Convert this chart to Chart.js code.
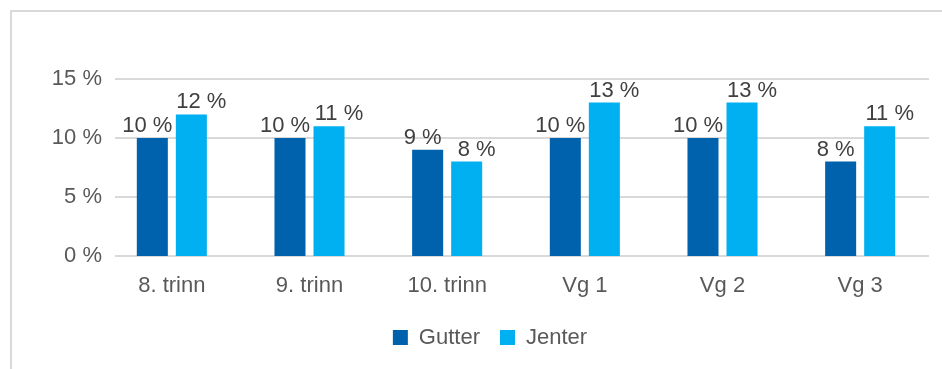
<!DOCTYPE html>
<html><head><meta charset="utf-8">
<script src="https://cdn.jsdelivr.net/npm/chart.js@4"></script>
<style>
html,body{margin:0;padding:0;background:#fff;overflow:hidden;width:942px;height:369px;}
#frame{position:absolute;left:10px;top:10px;width:1000px;height:400px;border-left:2px solid #d9d9d9;border-top:2px solid #d9d9d9;}
#wrap{position:absolute;left:0;top:0;width:942px;height:369px;}
</style></head><body>
<div id="frame"></div>
<div id="wrap"><canvas id="c"></canvas></div>
<script>
const categories = ['8. trinn', '9. trinn', '10. trinn', 'Vg 1', 'Vg 2', 'Vg 3'];
const gutter = [10, 10, 9, 10, 10, 8];
const jenter = [12, 11, 8, 13, 13, 11];
const yTicks = [0, 5, 10, 15];
const seriesNames = ['Gutter', 'Jenter'];

const FONT = '"Liberation Sans", Arial, sans-serif';
const FS = 22;
const labelShift = [-5, 10];
const gridInset = 12;

Chart.defaults.font.family = FONT;

const yGrid = {
  id: 'yGrid',
  beforeDatasetsDraw(chart) {
    const {ctx, chartArea, scales: {y}} = chart;
    ctx.save();
    ctx.strokeStyle = '#d9d9d9';
    ctx.lineWidth = 2;
    y.ticks.forEach(t => {
      const py = Math.round(y.getPixelForValue(t.value));
      ctx.beginPath();
      ctx.moveTo(chartArea.left + gridInset, py);
      ctx.lineTo(chartArea.right, py);
      ctx.stroke();
    });
    ctx.restore();
  }
};

const valueLabels = {
  id: 'valueLabels',
  afterDatasetsDraw(chart) {
    const ctx = chart.ctx;
    ctx.save();
    ctx.font = FS + 'px ' + FONT;
    ctx.fillStyle = '#404040';
    ctx.textAlign = 'center';
    ctx.textBaseline = 'alphabetic';
    chart.data.datasets.forEach((ds, i) => {
      chart.getDatasetMeta(i).data.forEach((bar, j) => {
        ctx.fillText(ds.data[j] + ' %', bar.x + labelShift[i], bar.y - 6);
      });
    });
    ctx.restore();
  }
};

new Chart(document.getElementById('c'), {
  type: 'bar',
  data: {
    labels: categories,
    datasets: [
      {label: seriesNames[0], data: gutter, backgroundColor: '#0062AD', categoryPercentage: 0.567, barPercentage: 0.795},
      {label: seriesNames[1], data: jenter, backgroundColor: '#00B0F0', categoryPercentage: 0.567, barPercentage: 0.795}
    ]
  },
  options: {
    responsive: true,
    maintainAspectRatio: false,
    animation: false,
    layout: {padding: {left: 51, right: 13, top: 79, bottom: 10.5}},
    plugins: {
      tooltip: {enabled: false},
      legend: {
        position: 'bottom',
        labels: {
          boxWidth: 15, boxHeight: 15, padding: 20,
          color: '#595959',
          font: {size: FS, family: FONT}
        }
      }
    },
    scales: {
      x: {
        grid: {display: false, drawTicks: false},
        border: {display: false},
        ticks: {color: '#595959', font: {size: FS}, padding: 17, maxRotation: 0, autoSkip: false},
        afterFit: s => { s.height = 50.5; }
      },
      y: {
        min: 0, max: 15,
        grid: {display: false, drawTicks: false},
        border: {display: false},
        afterBuildTicks: s => { s.ticks = yTicks.map(v => ({value: v})); },
        ticks: {color: '#595959', font: {size: FS}, padding: 1, callback: v => v + ' %'},
        afterFit: s => { s.width = 52; }
      }
    }
  },
  plugins: [yGrid, valueLabels]
});
</script>
</body></html>
